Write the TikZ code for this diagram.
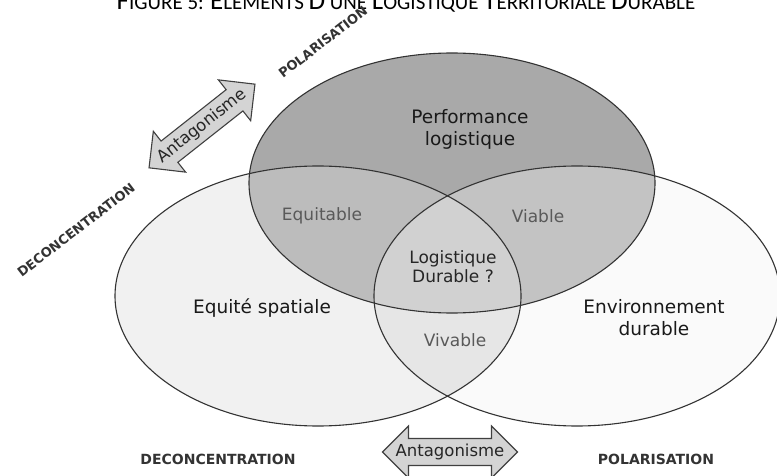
\documentclass[tikz,border=0pt]{standalone}
\usepackage{fontspec}
\setmainfont{DejaVu Sans}
\newfontfamily\titlefont{Carlito}
\usetikzlibrary{shapes.arrows}

\definecolor{equigray}{HTML}{F1F1F1}
\definecolor{envigray}{HTML}{FAFAFA}
\definecolor{vivgray}{HTML}{E6E6E6}
\definecolor{perfgray}{HTML}{A9A9A9}
\definecolor{equitgray}{HTML}{BCBCBC}
\definecolor{viabgray}{HTML}{C3C3C3}
\definecolor{durgray}{HTML}{D1D1D1}

\newcommand\bigsc[1]{{\fontsize{27}{27}\selectfont #1}}
\newcommand\smallsc[1]{{\fontsize{21}{21}\selectfont #1}}

\begin{document}
\begin{tikzpicture}[x=1pt,y=-1pt,
  ring/.style={x radius=203,y radius=130},
  outline/.style={draw=black!80,line width=1.1pt},
  bigtext/.style={font=\fontsize{18.5}{22}\selectfont,text=black!90,align=center},
  smalltext/.style={font=\fontsize{17}{20}\selectfont,text=black!65},
  poletext/.style={font=\bfseries\fontsize{13}{15}\selectfont,text=black!80},
  antarrow/.style={double arrow,draw=black!75,fill=black!17,line width=1.1pt,
    double arrow head extend=12.5pt,minimum height=135pt,inner xsep=0pt,inner ysep=5pt,
    font=\fontsize{16.5}{16.5}\selectfont,text=black!85}]
\useasboundingbox (0,0) rectangle (777,476);
\fill[white] (0,0) rectangle (777,476);

% title (cut at the top)
\node[anchor=base,font=\titlefont] (title) at (406,9.5)
  {\bigsc{F}\smallsc{IGURE 5: }\bigsc{É}\smallsc{LÉMENTS }\bigsc{D}\smallsc{'UNE }\bigsc{L}\smallsc{OGISTIQUE }\bigsc{T}\smallsc{ERRITORIALE }\bigsc{D}\smallsc{URABLE}};

% ellipses
\coordinate (perf) at (452,183);
\coordinate (equi) at (318,296);
\coordinate (envi) at (577,296);

\fill[equigray,ring] (equi) ellipse;
\fill[envigray,ring] (envi) ellipse;
\begin{scope}
  \clip[ring] (equi) ellipse;
  \fill[vivgray,ring] (envi) ellipse;
\end{scope}
\fill[perfgray,ring] (perf) ellipse;
\begin{scope}
  \clip[ring] (perf) ellipse;
  \fill[equitgray,ring] (equi) ellipse;
  \fill[viabgray,ring] (envi) ellipse;
  \clip[ring] (equi) ellipse;
  \fill[durgray,ring] (envi) ellipse;
\end{scope}
\draw[outline,ring] (equi) ellipse;
\draw[outline,ring] (envi) ellipse;
\draw[outline,ring] (perf) ellipse;

% labels
\node[bigtext] (perflab) at (470,129) {Performance\\logistique};
\node[bigtext] (equilab) at (262,308) {Equité spatiale};
\node[bigtext] (envilab) at (654,318) {Environnement\\durable};
\node[smalltext] (equitlab) at (322,216) {Equitable};
\node[smalltext] (viablab) at (538,216) {Viable};
\node[smalltext] (vivlab) at (455,340) {Vivable};
\node[bigtext,font=\fontsize{17}{19}\selectfont,text=black!85] (durlab) at (453,267) {Logistique\\Durable ?};

% poles
\node[poletext,rotate=37.6] (deconc1) at (76,230) {DECONCENTRATION};
\node[poletext,rotate=37.6] (polar1) at (323,42) {POLARISATION};
\node[poletext,font=\bfseries\fontsize{14}{15}\selectfont] (deconc2) at (218,459) {DECONCENTRATION};
\node[poletext,font=\bfseries\fontsize{14}{15}\selectfont] (polar2) at (656,459) {POLARISATION};

% antagonisms
\node[antarrow,rotate=38.3] (antag1) at (202,126) {\makebox[60pt]{Antagonisme}};
\node[antarrow] (antag2) at (450,452) {\makebox[60pt]{Antagonisme}};
\end{tikzpicture}
\end{document}
